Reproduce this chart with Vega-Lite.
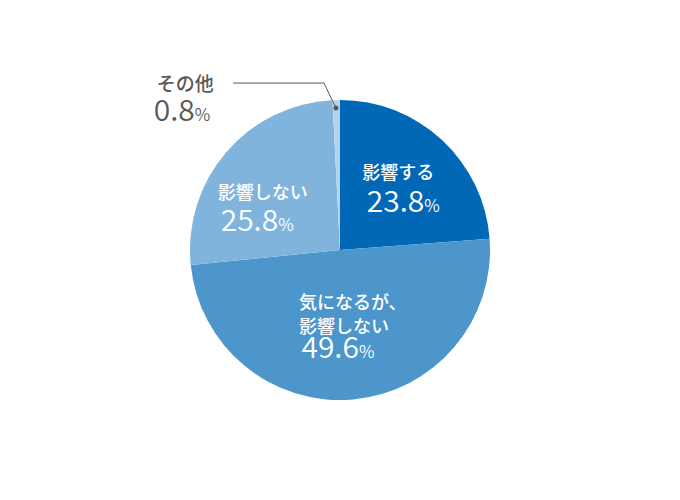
{
  "$schema": "https://vega.github.io/schema/vega-lite/v6.json",
  "width": 680,
  "height": 500,
  "autosize": {"type": "fit", "contains": "padding"},
  "padding": 0,
  "background": "white",
  "config": {"view": {"stroke": null}, "font": "Noto Sans CJK JP"},
  "data": {
    "values": [
      {"cat": "影響する", "label": "影響する", "value": 23.8, "order": 1},
      {"cat": "気になるが、影響しない", "label": "気になるが、\n影響しない", "value": 49.6, "order": 2},
      {"cat": "影響しない", "label": "影響しない", "value": 25.8, "order": 3},
      {"cat": "その他", "label": "その他", "value": 0.8, "order": 4}
    ]
  },
  "layer": [
    {
      "mark": {"type": "arc", "outerRadius": 150},
      "encoding": {
        "theta": {"field": "value", "type": "quantitative", "stack": true},
        "order": {"field": "order", "type": "quantitative"},
        "color": {
          "field": "cat",
          "type": "nominal",
          "scale": {
            "domain": ["影響する", "気になるが、影響しない", "影響しない", "その他"],
            "range": ["#0068b7", "#4c96cc", "#80b4dc", "#b4d4ee"]
          },
          "legend": null
        }
      }
    },
    {
      "mark": {"type": "text", "radius": 90, "align": "left", "baseline": "middle", "dx": -39, "dy": -10.5, "fontSize": 18, "fontWeight": 500, "color": "white"},
      "encoding": {
        "theta": {"field": "value", "type": "quantitative", "stack": true},
        "order": {"field": "order", "type": "quantitative"},
        "detail": {"field": "cat"},
        "text": {"condition": {"test": "datum.order === 1", "field": "label"}, "value": ""}
      }
    },
    {
      "mark": {"type": "text", "radius": 90, "align": "right", "baseline": "alphabetic", "dx": 23, "dy": 28, "fontSize": 30, "fontWeight": 350, "color": "white"},
      "encoding": {
        "theta": {"field": "value", "type": "quantitative", "stack": true},
        "order": {"field": "order", "type": "quantitative"},
        "detail": {"field": "cat"},
        "text": {"condition": {"test": "datum.order === 1", "field": "value", "type": "quantitative", "format": ".1f"}, "value": ""}
      }
    },
    {
      "mark": {"type": "text", "radius": 90, "align": "left", "baseline": "alphabetic", "dx": 23, "dy": 28, "fontSize": 17, "fontWeight": 350, "color": "white"},
      "encoding": {
        "theta": {"field": "value", "type": "quantitative", "stack": true},
        "order": {"field": "order", "type": "quantitative"},
        "detail": {"field": "cat"},
        "text": {"condition": {"test": "datum.order === 1", "value": "%"}, "value": ""}
      }
    },
    {
      "mark": {"type": "text", "radius": 90, "align": "left", "baseline": "middle", "lineBreak": "\n", "lineHeight": 24.5, "dx": -49, "dy": -36, "fontSize": 18, "fontWeight": 500, "color": "white"},
      "encoding": {
        "theta": {"field": "value", "type": "quantitative", "stack": true},
        "order": {"field": "order", "type": "quantitative"},
        "detail": {"field": "cat"},
        "text": {"condition": {"test": "datum.order === 2", "field": "label"}, "value": ""}
      }
    },
    {
      "mark": {"type": "text", "radius": 90, "align": "right", "baseline": "alphabetic", "dx": 11, "dy": 18.4, "fontSize": 30, "fontWeight": 350, "color": "white"},
      "encoding": {
        "theta": {"field": "value", "type": "quantitative", "stack": true},
        "order": {"field": "order", "type": "quantitative"},
        "detail": {"field": "cat"},
        "text": {"condition": {"test": "datum.order === 2", "field": "value", "type": "quantitative", "format": ".1f"}, "value": ""}
      }
    },
    {
      "mark": {"type": "text", "radius": 90, "align": "left", "baseline": "alphabetic", "dx": 11, "dy": 18.4, "fontSize": 17, "fontWeight": 350, "color": "white"},
      "encoding": {
        "theta": {"field": "value", "type": "quantitative", "stack": true},
        "order": {"field": "order", "type": "quantitative"},
        "detail": {"field": "cat"},
        "text": {"condition": {"test": "datum.order === 2", "value": "%"}, "value": ""}
      }
    },
    {
      "mark": {"type": "text", "radius": 90, "align": "left", "baseline": "middle", "dx": -54, "dy": 2.7, "fontSize": 18, "fontWeight": 500, "color": "white"},
      "encoding": {
        "theta": {"field": "value", "type": "quantitative", "stack": true},
        "order": {"field": "order", "type": "quantitative"},
        "detail": {"field": "cat"},
        "text": {"condition": {"test": "datum.order === 3", "field": "label"}, "value": ""}
      }
    },
    {
      "mark": {"type": "text", "radius": 90, "align": "right", "baseline": "alphabetic", "dx": 6.4, "dy": 39.7, "fontSize": 30, "fontWeight": 350, "color": "white"},
      "encoding": {
        "theta": {"field": "value", "type": "quantitative", "stack": true},
        "order": {"field": "order", "type": "quantitative"},
        "detail": {"field": "cat"},
        "text": {"condition": {"test": "datum.order === 3", "field": "value", "type": "quantitative", "format": ".1f"}, "value": ""}
      }
    },
    {
      "mark": {"type": "text", "radius": 90, "align": "left", "baseline": "alphabetic", "dx": 6.4, "dy": 39.7, "fontSize": 17, "fontWeight": 350, "color": "white"},
      "encoding": {
        "theta": {"field": "value", "type": "quantitative", "stack": true},
        "order": {"field": "order", "type": "quantitative"},
        "detail": {"field": "cat"},
        "text": {"condition": {"test": "datum.order === 3", "value": "%"}, "value": ""}
      }
    },
    {
      "mark": {"type": "text", "radius": 170, "align": "left", "baseline": "middle", "dx": -179, "dy": 5, "fontSize": 19, "fontWeight": 500, "color": "#595959"},
      "encoding": {
        "theta": {"field": "value", "type": "quantitative", "stack": true},
        "order": {"field": "order", "type": "quantitative"},
        "detail": {"field": "cat"},
        "text": {"condition": {"test": "datum.order === 4", "field": "label"}, "value": ""}
      }
    },
    {
      "mark": {"type": "text", "radius": 170, "align": "right", "baseline": "alphabetic", "dx": -141, "dy": 41, "fontSize": 30, "fontWeight": 350, "color": "#595959"},
      "encoding": {
        "theta": {"field": "value", "type": "quantitative", "stack": true},
        "order": {"field": "order", "type": "quantitative"},
        "detail": {"field": "cat"},
        "text": {"condition": {"test": "datum.order === 4", "field": "value", "type": "quantitative", "format": ".1f"}, "value": ""}
      }
    },
    {
      "mark": {"type": "text", "radius": 170, "align": "left", "baseline": "alphabetic", "dx": -141, "dy": 41, "fontSize": 17, "fontWeight": 350, "color": "#595959"},
      "encoding": {
        "theta": {"field": "value", "type": "quantitative", "stack": true},
        "order": {"field": "order", "type": "quantitative"},
        "detail": {"field": "cat"},
        "text": {"condition": {"test": "datum.order === 4", "value": "%"}, "value": ""}
      }
    },
    {
      "transform": [{"filter": "datum.order === 4"}],
      "mark": {"type": "point", "shape": "M-0.713,-1.113L-0.107,-1.113L-0.027,-0.947", "size": 90000, "filled": false, "stroke": "#595959", "strokeWidth": 1, "opacity": 1},
      "encoding": {}
    },
    {
      "transform": [{"filter": "datum.order === 4"}],
      "mark": {"type": "point", "shape": "M-0.044,-0.947A0.017,0.017,0,1,1,-0.010,-0.947A0.017,0.017,0,1,1,-0.044,-0.947Z", "size": 90000, "filled": true, "fill": "#595959", "strokeWidth": 0, "opacity": 1},
      "encoding": {}
    }
  ]
}
